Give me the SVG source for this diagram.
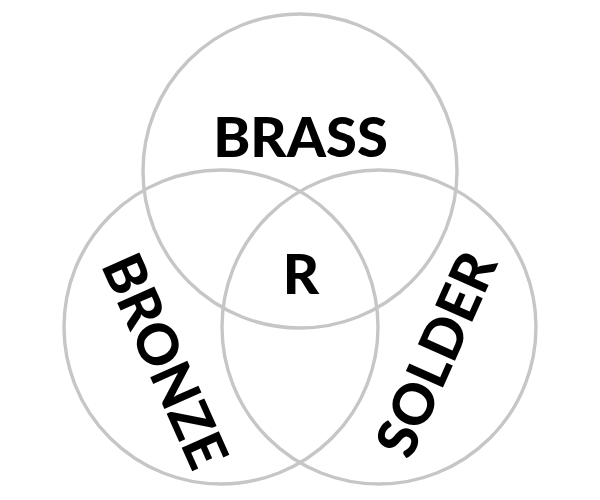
<svg xmlns="http://www.w3.org/2000/svg" width="600" height="500" viewBox="0 0 600 500">
  <style>
    .ring { fill: none; stroke: #c6c6c6; stroke-width: 3.4; }
    .lbl { font-family: Lato, "Liberation Sans", sans-serif; font-weight: 900; font-size: 56px; fill: #000; text-anchor: middle; }
  </style>
  <rect width="600" height="500" fill="#fff"/>
  <g id="brass">
    <circle class="ring" cx="300" cy="171" r="157"/>
  </g>
  <g id="bronze">
    <circle class="ring" cx="221" cy="327" r="157"/>
  </g>
  <g id="solder">
    <circle class="ring" cx="379" cy="327" r="157"/>
  </g>
  <g id="labels">
    <text class="lbl" x="300.5" y="157">BRASS</text>
    <text class="lbl" x="301" y="294">R</text>
    <text class="lbl" transform="translate(165,361) rotate(66)" x="0" y="20">BRONZE</text>
    <text class="lbl" transform="translate(436,354) rotate(-66)" x="0" y="20">SOLDER</text>
  </g>
</svg>
